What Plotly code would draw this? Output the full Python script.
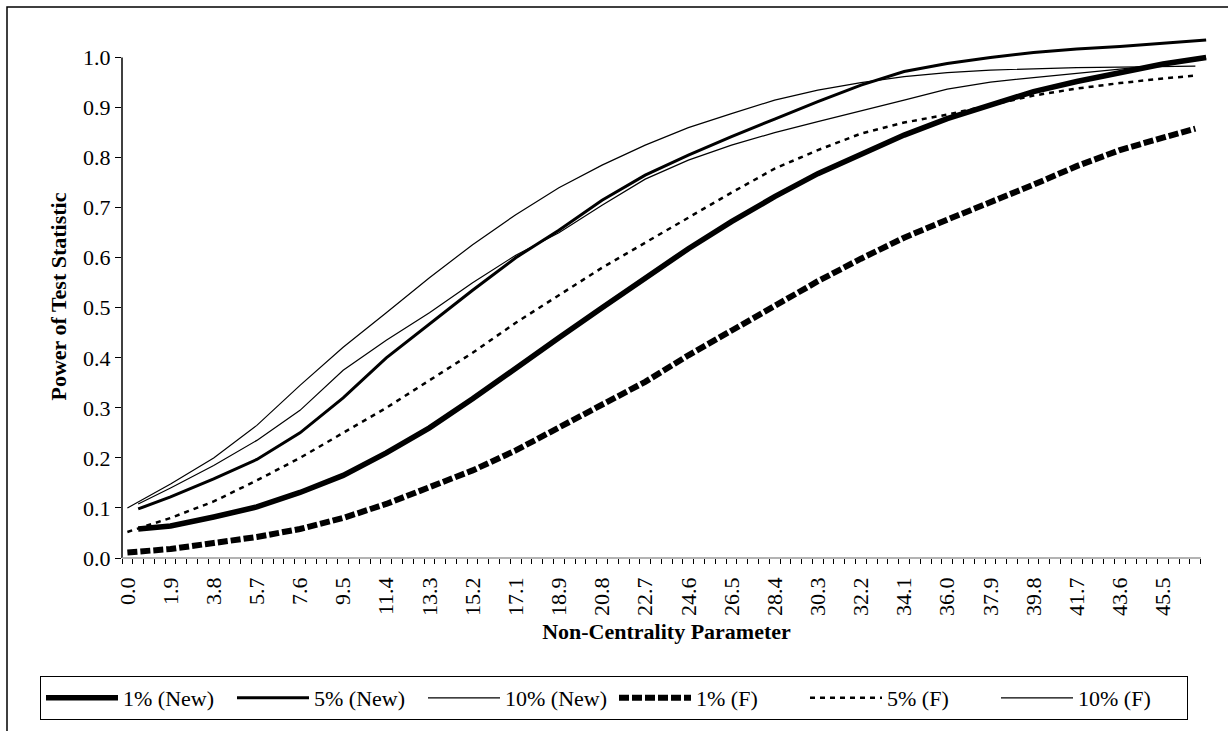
import plotly.graph_objects as go

# Non-centrality parameter values (category positions) for the F-test series
ncp_f = [0.0, 1.895, 3.789, 5.684, 7.579, 9.474, 11.368, 13.263, 15.158, 17.053,
         18.947, 20.842, 22.737, 24.632, 26.526, 28.421, 30.316, 32.211, 34.105,
         36.0, 37.895, 39.789, 41.684, 43.579, 45.474, 46.895]
# Non-centrality parameter values for the "New" series (shifted by one category)
ncp_new = [0.474, 1.895, 3.789, 5.684, 7.579, 9.474, 11.368, 13.263, 15.158, 17.053,
           18.947, 20.842, 22.737, 24.632, 26.526, 28.421, 30.316, 32.211, 34.105,
           36.0, 37.895, 39.789, 41.684, 43.579, 45.474, 47.368]

tick_labels = ["0.0", "1.9", "3.8", "5.7", "7.6", "9.5", "11.4", "13.3", "15.2", "17.1",
               "18.9", "20.8", "22.7", "24.6", "26.5", "28.4", "30.3", "32.2", "34.1",
               "36.0", "37.9", "39.8", "41.7", "43.6", "45.5"]
category_step = 0.47368

power_1_new = [0.058, 0.064, 0.082, 0.102, 0.131, 0.165, 0.21, 0.26, 0.318, 0.38,
               0.44, 0.50, 0.56, 0.618, 0.672, 0.722, 0.768, 0.808, 0.845, 0.878,
               0.905, 0.932, 0.952, 0.97, 0.987, 1.0]
power_5_new = [0.098, 0.122, 0.158, 0.197, 0.25, 0.32, 0.40, 0.468, 0.535, 0.60,
               0.655, 0.715, 0.765, 0.805, 0.842, 0.877, 0.912, 0.945, 0.972, 0.988,
               1.0, 1.01, 1.017, 1.022, 1.028, 1.035]
power_10_new = [0.108, 0.14, 0.185, 0.235, 0.295, 0.375, 0.435, 0.49, 0.55, 0.605,
                0.65, 0.705, 0.757, 0.795, 0.825, 0.85, 0.872, 0.893, 0.915, 0.937,
                0.951, 0.96, 0.968, 0.977, 0.986, 0.998]
power_1_f = [0.011, 0.018, 0.03, 0.042, 0.058, 0.08, 0.108, 0.14, 0.175, 0.215,
             0.26, 0.305, 0.352, 0.405, 0.455, 0.505, 0.553, 0.598, 0.64, 0.676,
             0.71, 0.746, 0.783, 0.815, 0.84, 0.858]
power_5_f = [0.052, 0.08, 0.113, 0.155, 0.20, 0.25, 0.30, 0.355, 0.41, 0.47,
             0.525, 0.58, 0.63, 0.68, 0.73, 0.778, 0.815, 0.848, 0.87, 0.886,
             0.905, 0.924, 0.938, 0.949, 0.958, 0.964]
power_10_f = [0.10, 0.148, 0.20, 0.265, 0.345, 0.421, 0.49, 0.56, 0.626, 0.686,
              0.74, 0.785, 0.825, 0.86, 0.888, 0.915, 0.935, 0.95, 0.962, 0.97,
              0.975, 0.978, 0.98, 0.981, 0.982, 0.983]

y_ticks = [0.0, 0.1, 0.2, 0.3, 0.4, 0.5, 0.6, 0.7, 0.8, 0.9, 1.0]

FONT = "Liberation Serif, Times New Roman, serif"

series = [
    ("1% (New)", ncp_new, power_1_new, dict(color="black", width=5.5)),
    ("5% (New)", ncp_new, power_5_new, dict(color="black", width=3)),
    ("10% (New)", ncp_new, power_10_new, dict(color="black", width=1.2)),
    ("1% (F)", ncp_f, power_1_f, dict(color="black", width=6, dash="10px,3px")),
    ("5% (F)", ncp_f, power_5_f, dict(color="black", width=2.5, dash="5px,5px")),
    ("10% (F)", ncp_f, power_10_f, dict(color="black", width=1.2)),
]

fig = go.Figure()
for name, xs, ys, line in series:
    fig.add_trace(go.Scatter(x=xs, y=ys, mode="lines", name=name, line=line))

x_lo = -0.5 * category_step
x_axis_end = 99.5 * category_step
x_hi = 100.45 * category_step

fig.update_layout(
    width=1228, height=731,
    margin=dict(l=122, r=17, t=35, b=172),
    paper_bgcolor="white", plot_bgcolor="white",
    font=dict(family=FONT, size=22, color="black"),
    showlegend=True,
    legend=dict(
        orientation="h", x=-0.0753, y=-0.2233, xanchor="left", yanchor="top",
        bordercolor="black", borderwidth=1, font=dict(family=FONT, size=22),
        itemwidth=72, entrywidth=104, entrywidthmode="pixels",
        traceorder="normal",
    ),
    xaxis=dict(
        range=[x_lo, x_hi], showgrid=False, zeroline=False, showline=False,
        tickmode="array", tickvals=ncp_f[:25], ticktext=tick_labels,
        tickangle=-90, ticks="", ticklabelstandoff=14,
        tickfont=dict(family=FONT, size=22),
        minor=dict(tickmode="linear", tick0=x_lo, dtick=category_step,
                   ticks="outside", ticklen=5, tickcolor="black", tickwidth=1,
                   showgrid=False),
        title=dict(text="<b>Non-Centrality Parameter</b>",
                   font=dict(family=FONT, size=22), standoff=8),
    ),
    yaxis=dict(
        range=[0, 1.045], showgrid=False, zeroline=False, showline=False,
        tickmode="array", tickvals=y_ticks, ticktext=[f"{v:.1f}" for v in y_ticks],
        ticks="outside", ticklen=6, tickcolor="black",
        tickfont=dict(family=FONT, size=22),
        title=dict(text="<b>Power of Test Statistic</b>",
                   font=dict(family=FONT, size=22), standoff=10),
    ),
    shapes=[
        # y axis line (0 to 1.0)
        dict(type="line", xref="paper", yref="y", x0=0, x1=0, y0=0, y1=1.0,
             line=dict(color="black", width=1.5)),
        # x axis line
        dict(type="line", xref="x", yref="paper", x0=x_lo, x1=x_axis_end, y0=0, y1=0,
             line=dict(color="#9a9a9a", width=1.5)),
        # chart area border
        dict(type="rect", xref="paper", yref="paper", x0=-0.1056, x1=2, y0=-2, y1=1.0534,
             line=dict(color="black", width=1.5), layer="below"),
    ],
)

fig.write_html("out.html", config={"displayModeBar": False},
               post_script="document.body.style.margin='0px';")
